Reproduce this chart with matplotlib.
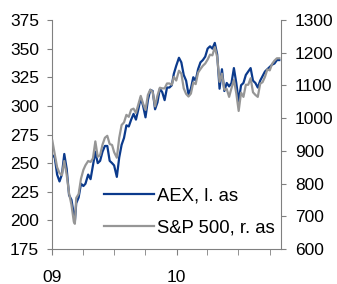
import numpy as np
import pandas as pd
import matplotlib
matplotlib.use("Agg")
import matplotlib.pyplot as plt
import matplotlib.dates as mdates

plt.rcParams['font.family'] = ['Liberation Sans', 'DejaVu Sans']

# weekly closes
dates = pd.to_datetime([
    "2009-01-02", "2009-01-09", "2009-01-16", "2009-01-23", "2009-01-30",
    "2009-02-06", "2009-02-13", "2009-02-20", "2009-02-27", "2009-03-06",
    "2009-03-09", "2009-03-13", "2009-03-20", "2009-03-27", "2009-04-03",
    "2009-04-09", "2009-04-17", "2009-04-24", "2009-05-01", "2009-05-08",
    "2009-05-15", "2009-05-22", "2009-05-29", "2009-06-05", "2009-06-12",
    "2009-06-19", "2009-06-26", "2009-07-02", "2009-07-10", "2009-07-17",
    "2009-07-24", "2009-07-31", "2009-08-07", "2009-08-14", "2009-08-21",
    "2009-08-28", "2009-09-04", "2009-09-11", "2009-09-18", "2009-09-25",
    "2009-10-02", "2009-10-09", "2009-10-16", "2009-10-23", "2009-10-30",
    "2009-11-06", "2009-11-13", "2009-11-20", "2009-11-27", "2009-12-04",
    "2009-12-11", "2009-12-18", "2009-12-24", "2009-12-31",
    "2010-01-08", "2010-01-15", "2010-01-22", "2010-01-29", "2010-02-05",
    "2010-02-12", "2010-02-19", "2010-02-26", "2010-03-05", "2010-03-12",
    "2010-03-19", "2010-03-26", "2010-04-02", "2010-04-09", "2010-04-16",
    "2010-04-23", "2010-04-30", "2010-05-07", "2010-05-14", "2010-05-21",
    "2010-05-28", "2010-06-04", "2010-06-11", "2010-06-18", "2010-06-25",
    "2010-07-02", "2010-07-09", "2010-07-16", "2010-07-23", "2010-07-30",
    "2010-08-06", "2010-08-13", "2010-08-20", "2010-08-27", "2010-09-03",
    "2010-09-10", "2010-09-17", "2010-09-24", "2010-10-01", "2010-10-08",
    "2010-10-15", "2010-10-22", "2010-10-29",
])

aex = [
    257, 255, 240, 234, 240, 258, 245, 222, 218, 205,
    199, 215, 220, 232, 230, 232, 240, 236, 248, 260,
    250, 252, 260, 265, 265, 252, 250, 248, 238, 255,
    266, 272, 283, 282, 288, 293, 288, 297, 307, 300,
    290, 305, 314, 313, 297, 303, 315, 312, 305, 316,
    316, 318, 328, 335,
    342, 338, 327, 322, 310, 315, 325, 322, 332, 338,
    340, 343, 350, 352, 350, 355, 345, 315, 332, 313,
    320, 317, 320, 333, 320, 304, 318, 320, 327, 330,
    333, 322, 320, 316, 322, 326, 330, 332, 334, 336,
    337, 340, 340,
]

spx = [
    931, 890, 850, 832, 826, 869, 827, 770, 735, 683,
    677, 756, 768, 815, 842, 856, 869, 866, 877, 929,
    882, 887, 919, 940, 946, 921, 918, 896, 879, 940,
    979, 987, 1010, 1004, 1026, 1029, 1016, 1042, 1068, 1044,
    1025, 1071, 1087, 1080, 1036, 1069, 1093, 1091, 1091, 1106,
    1106, 1102, 1126, 1115,
    1145, 1136, 1091, 1074, 1066, 1075, 1109, 1104, 1139, 1150,
    1160, 1167, 1179, 1194, 1192, 1217, 1187, 1111, 1136, 1087,
    1089, 1065, 1092, 1117, 1076, 1022, 1078, 1065, 1102, 1102,
    1122, 1079, 1071, 1065, 1105, 1110, 1126, 1149, 1146, 1166,
    1176, 1183, 1183,
]

labels = ["AEX, l. as", "S&P 500, r. as"]
navy = "#0b3a8c"
grey = "#969696"
spine_c = "#808080"
fs = 12.5

fig = plt.figure(figsize=(3.37, 2.84), dpi=100)
ax = fig.add_axes([0.1543, 0.1232, 0.6795, 0.8064])
ax2 = ax.twinx()

l1, = ax.plot(dates, aex, color=navy, lw=1.6)
l2, = ax2.plot(dates, spx, color=grey, lw=1.6)

ax.set_ylim(175, 375)
ax.set_yticks(np.arange(175, 376, 25))
ax2.set_ylim(600, 1300)
ax2.set_yticks(np.arange(600, 1301, 100))
ax.set_xlim(pd.Timestamp("2009-01-01"), pd.Timestamp("2010-11-03"))

ax.xaxis.set_major_locator(mdates.YearLocator())
ax.xaxis.set_major_formatter(mdates.DateFormatter("%y"))
ax.xaxis.set_minor_locator(mdates.MonthLocator(bymonth=[1, 4, 7, 10]))

for a in (ax, ax2):
    a.spines['top'].set_visible(False)
    for s in a.spines.values():
        s.set_color(spine_c)
    a.tick_params(which='both', direction='out', color=spine_c, labelsize=fs, length=3.6)
ax2.spines['left'].set_visible(False)
ax2.spines['bottom'].set_visible(False)
ax.spines['right'].set_visible(False)
ax.tick_params(axis='y', pad=5.8)
ax2.tick_params(axis='y', pad=6.5)
ax.tick_params(axis='x', which='both', length=4.3, pad=10.5)

leg = ax2.legend([l1, l2], labels, loc='lower right', bbox_to_anchor=(1.03, 0.0),
                 frameon=False, fontsize=13.3, handlelength=2.75, handletextpad=0.15,
                 labelspacing=0.8, borderaxespad=0.3)

fig.savefig("out.png", dpi=100)
